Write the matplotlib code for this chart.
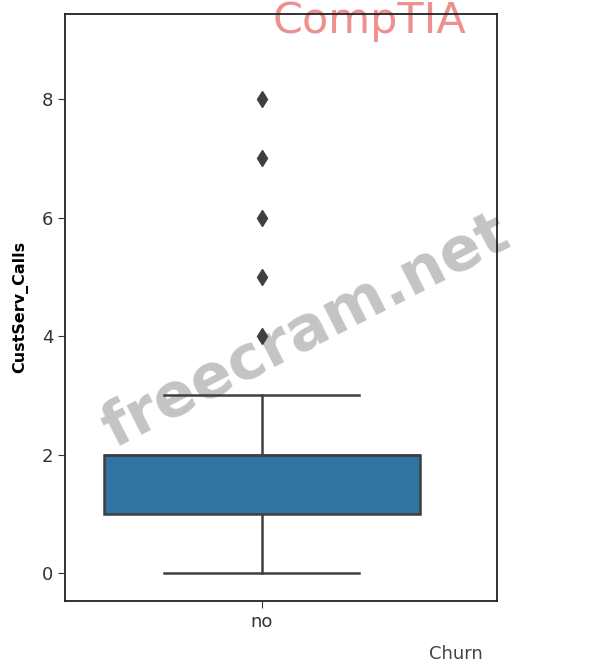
import matplotlib.pyplot as plt
import numpy as np

# Datos del boxplot (CustServ_Calls para Churn = "no")
categorias = ['no']
q1 = [1]
mediana = [2]
q3 = [2]
bigote_inf = [0]
bigote_sup = [3]
atipicos = [4, 5, 6, 7, 8]
yticks = [0, 2, 4, 6, 8]

stats = [{
    'label': categorias[0],
    'q1': q1[0], 'med': mediana[0], 'q3': q3[0],
    'whislo': bigote_inf[0], 'whishi': bigote_sup[0],
    'fliers': atipicos,
}]

fig = plt.figure(figsize=(6.13, 6.64), dpi=100)
ax = fig.add_axes([0.106, 0.095, 0.705, 0.884])

gris = '#3f3f3f'
ax.bxp(stats, positions=[0], widths=0.8, capwidths=0.495, patch_artist=True,
       boxprops=dict(facecolor='#3274a1', edgecolor=gris, linewidth=1.8),
       medianprops=dict(color=gris, linewidth=1.8),
       whiskerprops=dict(color=gris, linewidth=1.8),
       capprops=dict(color=gris, linewidth=1.8),
       flierprops=dict(marker='d', markerfacecolor=gris, markeredgecolor=gris,
                       markersize=8))

ax.set_xlim(-0.5, 0.597)
ax.set_ylim(-0.47, 9.44)
ax.set_yticks(yticks)
ax.set_xticks([0])
ax.set_xticklabels(categorias)
ax.tick_params(labelsize=13, colors='#333333', length=5)
for s in ax.spines.values():
    s.set_color('#222222')
    s.set_linewidth(1.3)

ax.set_ylabel('CustServ_Calls', fontsize=11.5, fontweight='bold', labelpad=10)
fig.text(0.70, 0.002, 'Churn', fontsize=13, color='#444444', ha='left', va='bottom')

# Marcas de agua (debajo de las cajas)
ax.text(0.603, 0.968, 'CompTIA', fontsize=31, color='#ee9090', ha='center', va='center',
        transform=fig.transFigure, zorder=0.5, clip_on=False)
ax.text(0.50, 0.50, 'freecram.net', fontsize=44, fontweight='bold', color='#c4c4c4',
        rotation=27, ha='center', va='center', transform=fig.transFigure,
        zorder=0.5, clip_on=False)

fig.savefig('out.png', dpi=100)
